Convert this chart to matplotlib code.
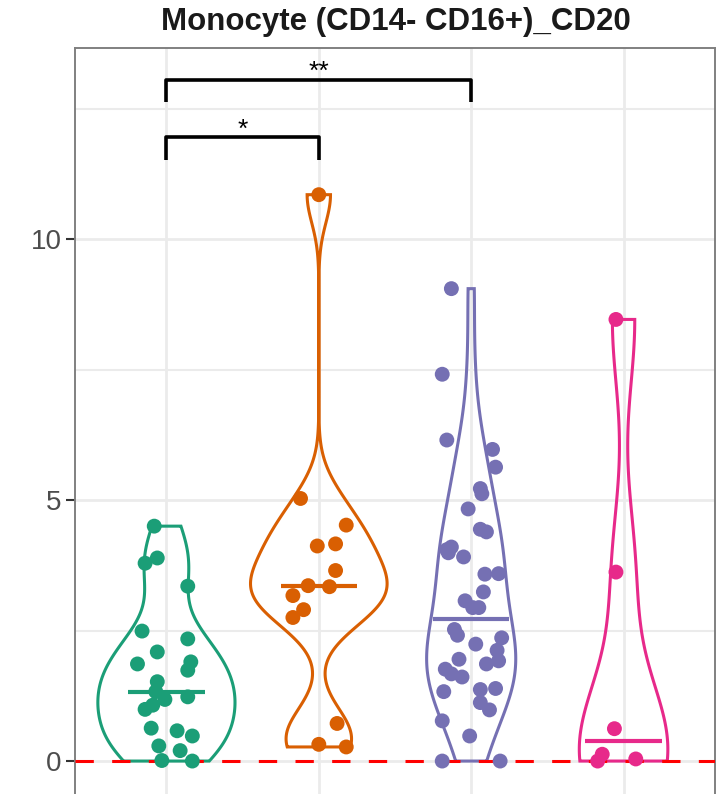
import numpy as np
import matplotlib.pyplot as plt

plt.rcParams['font.family'] = ['Liberation Sans', 'DejaVu Sans']

title = 'Monocyte (CD14- CD16+)_CD20'
colors = ['#1B9E77', '#D95F02', '#7570B3', '#E7298A']

# values per group, with the horizontal jitter of each point (in category units)
g1_vals = [4.50, 3.79, 3.89, 3.35, 2.49, 2.34, 2.09, 1.86, 1.90, 1.74, 1.52, 1.33,
           1.18, 1.07, 0.99, 1.23, 0.63, 0.58, 0.48, 0.29, 0.20, 0.01, 0.00]
g1_jit = [-0.08, -0.14, -0.06, 0.14, -0.16, 0.14, -0.06, -0.19, 0.16, 0.14, -0.06, -0.07,
          -0.01, -0.09, -0.14, 0.14, -0.10, 0.07, 0.17, -0.05, 0.09, -0.03, 0.17]

g2_vals = [10.85, 5.03, 4.52, 4.12, 4.16, 3.65, 3.36, 3.34, 3.17, 2.90, 2.75, 0.72, 0.32, 0.27]
g2_jit = [0.0, -0.12, 0.18, -0.01, 0.11, 0.11, -0.07, 0.07, -0.17, -0.10, -0.17, 0.12, 0.0, 0.18]

g3_vals = [9.05, 7.41, 6.15, 5.97, 5.63, 5.22, 5.12, 4.83, 4.44, 4.39, 4.10, 3.99, 3.91,
           3.58, 3.59, 3.24, 3.07, 2.94, 2.94, 2.52, 2.41, 2.24, 2.36, 2.12, 1.95, 1.86,
           1.92, 1.76, 1.67, 1.61, 1.33, 1.37, 1.39, 1.12, 0.98, 0.77, 0.48, 0.00, 0.00, 4.05]
g3_jit = [-0.13, -0.19, -0.16, 0.14, 0.16, 0.06, 0.07, -0.02, 0.06, 0.10, -0.13, -0.15, -0.05,
          0.09, 0.18, 0.08, -0.04, 0.01, 0.05, -0.11, -0.09, 0.03, 0.20, 0.17, -0.08, 0.10,
          0.18, -0.17, -0.13, -0.06, -0.18, 0.06, 0.16, 0.06, 0.12, -0.19, -0.01, -0.19, 0.19, -0.16]

g4_vals = [8.46, 3.62, 0.62, 0.13, 0.00, 0.04]
g4_jit = [-0.05, -0.05, -0.06, -0.14, -0.17, 0.08]

groups = [g1_vals, g2_vals, g3_vals, g4_vals]
jitters = [g1_jit, g2_jit, g3_jit, g4_jit]

# significance brackets: (from, to, label)
comparisons = [(1, 2, '*'), (1, 3, '**')]
bracket_y = [11.95, 13.05]


def nrd0(x):
    x = np.asarray(x)
    q75, q25 = np.percentile(x, [75, 25])
    lo = min(x.std(ddof=1), (q75 - q25) / 1.34)
    return 0.9 * lo * len(x) ** -0.2


def density(x, grid):
    x = np.asarray(x)
    bw = nrd0(x)
    z = (grid[:, None] - x[None, :]) / bw
    return np.exp(-0.5 * z ** 2).sum(axis=1) / (len(x) * bw * np.sqrt(2 * np.pi))


grids = [np.linspace(min(g), max(g), 512) for g in groups]
dens = [density(g, gr) for g, gr in zip(groups, grids)]
dmax = max(d.max() for d in dens)

fig = plt.figure(figsize=(7.22, 7.94), dpi=100)
ax = fig.add_axes([75 / 722, -1.5 / 794, 640 / 722, 747.5 / 794])

for i, (vals, jit, gr, d, c) in enumerate(zip(groups, jitters, grids, dens, colors)):
    pos = i + 1
    hw = 0.45 * d / dmax
    xs = np.concatenate([pos - hw, (pos + hw)[::-1]])
    ys = np.concatenate([gr, gr[::-1]])
    ax.fill(xs, ys, facecolor='none', edgecolor=c, lw=2.2, zorder=2)
    ax.hlines(np.median(vals), pos - 0.25, pos + 0.25, color=c, lw=3, zorder=3)
    ax.scatter(pos + np.array(jit), vals, s=115, color=c, edgecolors='none', zorder=5)

ax.axhline(0, color='red', lw=2.2, ls=(0, (6, 6)), zorder=4)

for (a, b, lab), yb in zip(comparisons, bracket_y):
    tip = 0.43
    ax.plot([a, a, b, b], [yb - tip, yb, yb, yb - tip], color='black', lw=2.6,
            solid_capstyle='butt', zorder=6)
    ax.text((a + b) / 2, yb - 0.08, lab, ha='center', va='bottom', fontsize=19)

ax.set_xlim(0.4, 4.6)
ax.set_ylim(-0.66, 13.66)
ax.set_xticks([1, 2, 3, 4])
ax.set_xticklabels([])
ax.set_yticks([0, 5, 10])
ax.set_yticks([2.5, 7.5, 12.5], minor=True)
ax.tick_params(axis='y', which='major', length=6.5, width=1.5, color='#333333',
               labelsize=20, labelcolor='#4D4D4D', pad=3)
ax.tick_params(axis='y', which='minor', length=0)
ax.tick_params(axis='x', length=0)
ax.grid(which='major', color='#EBEBEB', lw=2)
ax.grid(which='minor', axis='y', color='#EBEBEB', lw=1.5)
ax.set_axisbelow(True)
for sp in ax.spines.values():
    sp.set_color('#808080')
    sp.set_linewidth(1.4)

fig.text(396 / 722, 1 - 22 / 794, title, ha='center', va='center',
         fontsize=22.5, fontweight='bold', color='#1A1A1A')

fig.savefig('out.png', dpi=100)
